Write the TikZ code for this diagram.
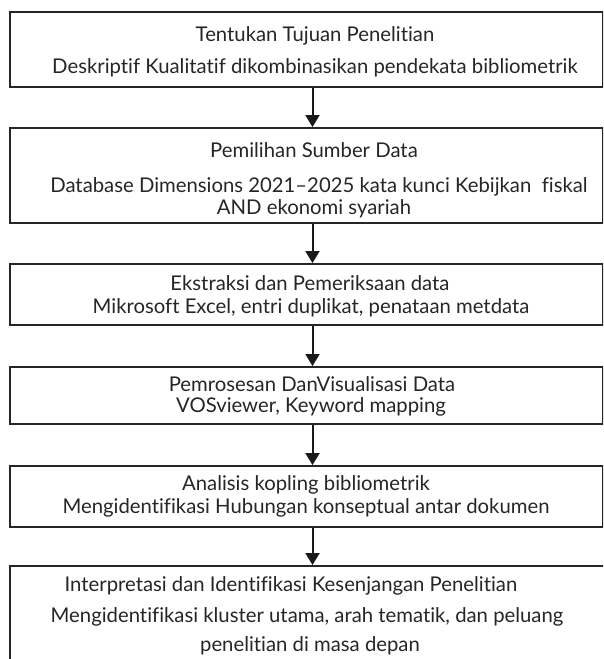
\documentclass[tikz,border=0pt]{standalone}
\usepackage{fontspec}
\setmainfont{Lato}[Ligatures={NoCommon},RawFeature={-liga;-dlig}]
\usetikzlibrary{arrows.meta}
\begin{document}
\begin{tikzpicture}[x=1pt,y=-1pt,
  box/.style={draw=black!85,line width=1.9pt,rectangle,inner sep=0pt},
  txt/.style={inner sep=0pt,font=\fontsize{20.3}{23}\selectfont,text=black!85},
  arr/.style={line width=2pt,draw=black!90,-{Triangle[width=14pt,length=12pt]}}]
\useasboundingbox (0,0) rectangle (603,659);
\clip (0,0) rectangle (603,659);
\fill[white] (0,0) rectangle (603,659);
% boxes
\node[box,minimum width=593pt,minimum height=75pt] (b1) at (306.5,49.5) {};
\node[box,minimum width=593pt,minimum height=95pt] (b2) at (306.5,175.5) {};
\node[box,minimum width=593pt,minimum height=61pt] (b3) at (306.5,294.5) {};
\node[box,minimum width=593pt,minimum height=57pt] (b4) at (306.5,395.5) {};
\node[box,minimum width=593pt,minimum height=61pt] (b5) at (306.5,496.5) {};
\node[box,minimum width=597pt,minimum height=120pt] (b6) at (308.5,626) {};
% texts
\node[txt] (t1a) at (315,36) {Tentukan Tujuan Penelitian};
\node[txt] (t1b) at (315,68) {Deskriptif Kualitatif dikombinasikan pendekata bibliometrik};
\node[txt] (t2a) at (314,150) {Pemilihan Sumber Data};
\node[txt] (t2b) at (319,187) {Database Dimensions 2021--2025 kata kunci Kebijkan\ \ fiskal};
\node[txt] (t2c) at (314,209) {AND ekonomi syariah};
\node[txt] (t3a) at (310,283) {Ekstraksi dan Pemeriksaan data};
\node[txt] (t3b) at (311,308) {Mikrosoft Excel, entri duplikat, penataan metdata};
\node[txt] (t4a) at (312,384) {Pemrosesan DanVisualisasi Data};
\node[txt] (t4b) at (311,407) {VOSviewer, Keyword mapping};
\node[txt] (t5a) at (306,485) {Analisis kopling bibliometrik};
\node[txt] (t5b) at (306,508) {Mengidentifikasi Hubungan konseptual antar dokumen};
\node[txt] (t6a) at (291,586) {Interpretasi dan Identifikasi Kesenjangan Penelitian};
\node[txt] (t6b) at (307,617) {Mengidentifikasi kluster utama, arah tematik, dan peluang};
\node[txt] (t6c) at (310,646) {penelitian di masa depan};
% arrows
\draw[arr] ([xshift=6pt]b1.south) -- ([xshift=6pt]b2.north);
\draw[arr] ([xshift=6pt]b2.south) -- ([xshift=6pt]b3.north);
\draw[arr] ([xshift=6pt]b3.south) -- ([xshift=6pt]b4.north);
\draw[arr] ([xshift=6pt]b4.south) -- ([xshift=6pt]b5.north);
\draw[arr] ([xshift=6pt]b5.south) -- ([xshift=4pt]b6.north);
\end{tikzpicture}
\end{document}
